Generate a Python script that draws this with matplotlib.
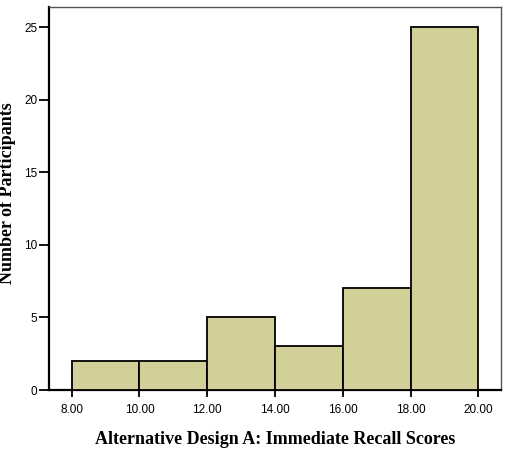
import matplotlib
matplotlib.use("Agg")
import matplotlib.pyplot as plt

# histogram bins and counts
bin_edges = [8, 10, 12, 14, 16, 18, 20]
counts = [2, 2, 5, 3, 7, 25]
xtick_vals = [8, 10, 12, 14, 16, 18, 20]
xtick_labels = ["8.00", "10.00", "12.00", "14.00", "16.00", "18.00", "20.00"]
ytick_vals = [0, 5, 10, 15, 20, 25]

fig = plt.figure(figsize=(5.1, 4.5), dpi=100)
ax = fig.add_axes([0.0961, 0.1333, 0.8857, 0.8511])

lefts = bin_edges[:-1]
widths = [bin_edges[i + 1] - bin_edges[i] for i in range(len(counts))]
ax.bar(lefts, counts, width=widths, align="edge", color="#d2cf98",
       edgecolor="black", linewidth=1.3, zorder=3)

ax.set_xlim(7.33, 20.66)
ax.set_ylim(0, 26.38)

ax.set_xticks(xtick_vals)
ax.set_xticklabels(xtick_labels, fontsize=8.5, family="Liberation Sans")
ax.set_yticks(ytick_vals)
ax.set_yticklabels([str(v) for v in ytick_vals], fontsize=8.5, family="Liberation Sans")
ax.tick_params(axis="y", direction="out", length=7.5, width=1.3, pad=1)
ax.tick_params(axis="x", direction="out", length=5, width=1.3, pad=5)

for side in ["left", "bottom"]:
    ax.spines[side].set_linewidth(1.6)
    ax.spines[side].set_color("black")
for side in ["top", "right"]:
    ax.spines[side].set_linewidth(1.0)
    ax.spines[side].set_color("#555555")

ax.set_xlabel("Alternative Design A: Immediate Recall Scores",
              fontsize=13, fontweight="bold", family="Liberation Serif", labelpad=11)
ax.set_ylabel("Number of Participants",
              fontsize=13, fontweight="bold", family="Liberation Serif")
ax.yaxis.set_label_coords(-0.074, 0.514)

fig.savefig("out.png", dpi=100)
